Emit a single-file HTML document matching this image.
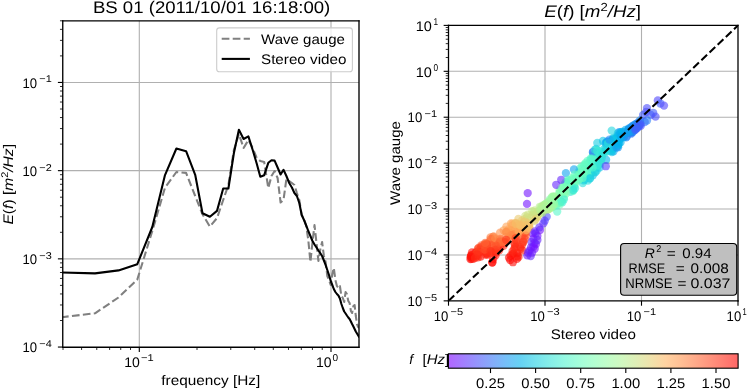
<!DOCTYPE html>
<html><head><meta charset="utf-8"><style>
html,body{margin:0;padding:0;background:#fff;width:749px;height:389px;overflow:hidden}
svg{display:block;will-change:transform}
text{font-family:"Liberation Sans",sans-serif;fill:#000;text-rendering:geometricPrecision}
</style></head><body>
<svg width="749" height="389" viewBox="0 0 749 389">
<defs></defs>
<linearGradient id="cbg" x1="0" x2="1" y1="0" y2="0"><stop offset="0.000" stop-color="rgb(178,102,255)"/><stop offset="0.050" stop-color="rgb(163,126,255)"/><stop offset="0.100" stop-color="rgb(148,149,253)"/><stop offset="0.150" stop-color="rgb(133,171,251)"/><stop offset="0.200" stop-color="rgb(117,192,248)"/><stop offset="0.250" stop-color="rgb(102,210,243)"/><stop offset="0.300" stop-color="rgb(117,226,238)"/><stop offset="0.350" stop-color="rgb(133,238,232)"/><stop offset="0.400" stop-color="rgb(148,248,226)"/><stop offset="0.450" stop-color="rgb(163,253,218)"/><stop offset="0.500" stop-color="rgb(178,255,210)"/><stop offset="0.550" stop-color="rgb(194,253,201)"/><stop offset="0.600" stop-color="rgb(209,248,192)"/><stop offset="0.650" stop-color="rgb(224,238,182)"/><stop offset="0.700" stop-color="rgb(240,226,171)"/><stop offset="0.750" stop-color="rgb(255,210,161)"/><stop offset="0.800" stop-color="rgb(255,192,149)"/><stop offset="0.850" stop-color="rgb(255,171,138)"/><stop offset="0.900" stop-color="rgb(255,149,126)"/><stop offset="0.950" stop-color="rgb(255,126,114)"/><stop offset="1.000" stop-color="rgb(255,102,102)"/></linearGradient>
<clipPath id="cr"><rect x="448.50" y="25.40" width="289.50" height="275.45"/></clipPath>
<line x1="139.30" y1="20.85" x2="139.30" y2="347.20" stroke="#b0b0b0" stroke-width="1.11" />
<line x1="331.00" y1="20.85" x2="331.00" y2="347.20" stroke="#b0b0b0" stroke-width="1.11" />
<line x1="62.75" y1="82.45" x2="359.00" y2="82.45" stroke="#b0b0b0" stroke-width="1.11" />
<line x1="62.75" y1="170.65" x2="359.00" y2="170.65" stroke="#b0b0b0" stroke-width="1.11" />
<line x1="62.75" y1="258.85" x2="359.00" y2="258.85" stroke="#b0b0b0" stroke-width="1.11" />
<clipPath id="cl"><rect x="62.75" y="20.85" width="296.25" height="326.35"/></clipPath>
<g clip-path="url(#cl)"><polyline points="61.00,317.30 95.00,313.30 118.50,297.50 137.30,279.50 152.30,231.00 165.00,187.70 176.40,172.00 186.10,172.90 195.20,196.00 202.50,214.30 209.90,226.60 217.00,218.10 223.20,200.00 228.40,185.00 233.90,150.00 238.90,134.00 243.60,148.00 248.40,140.00 252.70,148.00 256.70,158.00 260.30,161.00 264.20,162.00 268.30,188.00 271.50,176.00 274.60,171.00 277.60,178.00 280.60,202.50 283.50,200.00 286.40,179.00 289.20,181.00 291.90,183.00 294.40,185.00 296.90,193.00 299.30,200.00 301.70,215.00 304.00,219.00 306.20,226.00 308.30,240.00 310.40,262.00 312.50,242.00 314.50,225.00 316.50,243.00 318.40,261.00 320.20,250.00 322.10,242.00 323.90,256.00 325.60,262.00 327.30,276.00 329.00,280.00 330.70,285.00 332.30,274.00 333.80,268.00 335.40,280.00 336.90,286.00 338.40,288.00 339.90,286.00 341.40,296.00 342.80,298.00 344.20,302.00 345.60,292.00 346.90,294.00 348.30,301.00 349.60,303.00 350.90,311.00 352.10,313.00 353.40,306.00 354.60,305.00 355.80,316.00 357.00,324.00 358.20,327.00 359.40,328.00" fill="none" stroke="#808080" stroke-width="2.08" stroke-dasharray="7.7 3.3" stroke-linejoin="round"/>
<polyline points="61.00,272.50 95.00,273.40 118.50,270.40 137.30,264.20 152.30,227.00 165.00,175.10 176.40,148.50 186.10,151.20 195.20,174.80 202.50,213.20 209.90,216.80 217.00,210.90 223.20,188.50 228.40,188.50 233.90,153.00 238.90,129.80 243.60,139.00 248.40,136.40 252.70,150.00 256.70,163.50 260.30,176.80 264.20,175.20 268.30,162.80 271.50,160.20 274.60,160.60 277.60,167.50 280.60,174.50 283.50,169.80 286.40,176.00 289.20,183.00 291.90,187.50 294.40,193.00 296.90,196.00 299.30,203.00 301.70,215.00 304.00,220.00 306.20,225.50 308.30,231.00 310.40,236.00 312.50,241.00 314.50,244.50 316.50,247.50 318.40,250.50 320.20,253.00 322.10,256.00 323.90,260.50 325.60,265.00 327.30,270.00 329.00,275.00 330.70,281.00 332.30,285.00 333.80,289.00 335.40,292.00 336.90,294.00 338.40,295.50 339.90,298.50 341.40,304.00 342.80,308.00 344.20,311.50 345.60,313.50 346.90,315.50 348.30,317.50 349.60,319.00 350.90,321.50 352.10,324.00 353.40,326.50 354.60,329.00 355.80,331.50 357.00,333.50 358.20,335.50 359.40,337.50" fill="none" stroke="#000" stroke-width="2.08" stroke-linejoin="round"/></g>
<line x1="62.75" y1="20.20" x2="62.75" y2="347.90" stroke="#000" stroke-width="1.35" />
<line x1="359.00" y1="20.20" x2="359.00" y2="347.90" stroke="#000" stroke-width="1.35" />
<line x1="62.10" y1="20.85" x2="359.60" y2="20.85" stroke="#000" stroke-width="1.35" />
<line x1="62.10" y1="347.20" x2="359.60" y2="347.20" stroke="#000" stroke-width="1.35" />
<line x1="57.89" y1="347.05" x2="62.75" y2="347.05" stroke="#000" stroke-width="1.11" />
<line x1="59.97" y1="320.50" x2="62.75" y2="320.50" stroke="#000" stroke-width="0.83" />
<line x1="59.97" y1="304.97" x2="62.75" y2="304.97" stroke="#000" stroke-width="0.83" />
<line x1="59.97" y1="293.95" x2="62.75" y2="293.95" stroke="#000" stroke-width="0.83" />
<line x1="59.97" y1="285.40" x2="62.75" y2="285.40" stroke="#000" stroke-width="0.83" />
<line x1="59.97" y1="278.42" x2="62.75" y2="278.42" stroke="#000" stroke-width="0.83" />
<line x1="59.97" y1="272.51" x2="62.75" y2="272.51" stroke="#000" stroke-width="0.83" />
<line x1="59.97" y1="267.40" x2="62.75" y2="267.40" stroke="#000" stroke-width="0.83" />
<line x1="59.97" y1="262.89" x2="62.75" y2="262.89" stroke="#000" stroke-width="0.83" />
<line x1="57.89" y1="258.85" x2="62.75" y2="258.85" stroke="#000" stroke-width="1.11" />
<line x1="59.97" y1="232.30" x2="62.75" y2="232.30" stroke="#000" stroke-width="0.83" />
<line x1="59.97" y1="216.77" x2="62.75" y2="216.77" stroke="#000" stroke-width="0.83" />
<line x1="59.97" y1="205.75" x2="62.75" y2="205.75" stroke="#000" stroke-width="0.83" />
<line x1="59.97" y1="197.20" x2="62.75" y2="197.20" stroke="#000" stroke-width="0.83" />
<line x1="59.97" y1="190.22" x2="62.75" y2="190.22" stroke="#000" stroke-width="0.83" />
<line x1="59.97" y1="184.31" x2="62.75" y2="184.31" stroke="#000" stroke-width="0.83" />
<line x1="59.97" y1="179.20" x2="62.75" y2="179.20" stroke="#000" stroke-width="0.83" />
<line x1="59.97" y1="174.69" x2="62.75" y2="174.69" stroke="#000" stroke-width="0.83" />
<line x1="57.89" y1="170.65" x2="62.75" y2="170.65" stroke="#000" stroke-width="1.11" />
<line x1="59.97" y1="144.10" x2="62.75" y2="144.10" stroke="#000" stroke-width="0.83" />
<line x1="59.97" y1="128.57" x2="62.75" y2="128.57" stroke="#000" stroke-width="0.83" />
<line x1="59.97" y1="117.55" x2="62.75" y2="117.55" stroke="#000" stroke-width="0.83" />
<line x1="59.97" y1="109.00" x2="62.75" y2="109.00" stroke="#000" stroke-width="0.83" />
<line x1="59.97" y1="102.02" x2="62.75" y2="102.02" stroke="#000" stroke-width="0.83" />
<line x1="59.97" y1="96.11" x2="62.75" y2="96.11" stroke="#000" stroke-width="0.83" />
<line x1="59.97" y1="91.00" x2="62.75" y2="91.00" stroke="#000" stroke-width="0.83" />
<line x1="59.97" y1="86.49" x2="62.75" y2="86.49" stroke="#000" stroke-width="0.83" />
<line x1="57.89" y1="82.45" x2="62.75" y2="82.45" stroke="#000" stroke-width="1.11" />
<line x1="59.97" y1="55.90" x2="62.75" y2="55.90" stroke="#000" stroke-width="0.83" />
<line x1="59.97" y1="40.37" x2="62.75" y2="40.37" stroke="#000" stroke-width="0.83" />
<line x1="59.97" y1="29.35" x2="62.75" y2="29.35" stroke="#000" stroke-width="0.83" />
<line x1="59.97" y1="20.80" x2="62.75" y2="20.80" stroke="#000" stroke-width="0.83" />
<line x1="139.30" y1="347.20" x2="139.30" y2="352.06" stroke="#000" stroke-width="1.11" />
<line x1="331.00" y1="347.20" x2="331.00" y2="352.06" stroke="#000" stroke-width="1.11" />
<line x1="63.01" y1="347.20" x2="63.01" y2="349.98" stroke="#000" stroke-width="0.83" />
<line x1="81.59" y1="347.20" x2="81.59" y2="349.98" stroke="#000" stroke-width="0.83" />
<line x1="96.77" y1="347.20" x2="96.77" y2="349.98" stroke="#000" stroke-width="0.83" />
<line x1="109.61" y1="347.20" x2="109.61" y2="349.98" stroke="#000" stroke-width="0.83" />
<line x1="120.72" y1="347.20" x2="120.72" y2="349.98" stroke="#000" stroke-width="0.83" />
<line x1="130.53" y1="347.20" x2="130.53" y2="349.98" stroke="#000" stroke-width="0.83" />
<line x1="197.01" y1="347.20" x2="197.01" y2="349.98" stroke="#000" stroke-width="0.83" />
<line x1="230.76" y1="347.20" x2="230.76" y2="349.98" stroke="#000" stroke-width="0.83" />
<line x1="254.71" y1="347.20" x2="254.71" y2="349.98" stroke="#000" stroke-width="0.83" />
<line x1="273.29" y1="347.20" x2="273.29" y2="349.98" stroke="#000" stroke-width="0.83" />
<line x1="288.47" y1="347.20" x2="288.47" y2="349.98" stroke="#000" stroke-width="0.83" />
<line x1="301.31" y1="347.20" x2="301.31" y2="349.98" stroke="#000" stroke-width="0.83" />
<line x1="312.42" y1="347.20" x2="312.42" y2="349.98" stroke="#000" stroke-width="0.83" />
<line x1="322.23" y1="347.20" x2="322.23" y2="349.98" stroke="#000" stroke-width="0.83" />
<text x="22.40" y="87.70" font-size="13.9" text-anchor="start" textLength="14.6" lengthAdjust="spacingAndGlyphs"  style="">10</text>
<text x="39.30" y="82.30" font-size="9.9" text-anchor="start" textLength="12.4" lengthAdjust="spacingAndGlyphs"  style="">−1</text>
<text x="22.40" y="175.90" font-size="13.9" text-anchor="start" textLength="14.6" lengthAdjust="spacingAndGlyphs"  style="">10</text>
<text x="39.30" y="170.50" font-size="9.9" text-anchor="start" textLength="12.4" lengthAdjust="spacingAndGlyphs"  style="">−2</text>
<text x="22.40" y="264.10" font-size="13.9" text-anchor="start" textLength="14.6" lengthAdjust="spacingAndGlyphs"  style="">10</text>
<text x="39.30" y="258.70" font-size="9.9" text-anchor="start" textLength="12.4" lengthAdjust="spacingAndGlyphs"  style="">−3</text>
<text x="22.40" y="352.25" font-size="13.9" text-anchor="start" textLength="14.6" lengthAdjust="spacingAndGlyphs"  style="">10</text>
<text x="39.30" y="346.85" font-size="9.9" text-anchor="start" textLength="12.4" lengthAdjust="spacingAndGlyphs"  style="">−4</text>
<text x="124.30" y="366.90" font-size="13.9" text-anchor="start" textLength="15.6" lengthAdjust="spacingAndGlyphs"  style="">10</text>
<text x="141.00" y="361.30" font-size="9.9" text-anchor="start" textLength="12.7" lengthAdjust="spacingAndGlyphs"  style="">−1</text>
<text x="316.00" y="366.90" font-size="13.9" text-anchor="start" textLength="15.6" lengthAdjust="spacingAndGlyphs"  style="">10</text>
<text x="332.50" y="361.30" font-size="9.9" text-anchor="start" textLength="5.6" lengthAdjust="spacingAndGlyphs"  style="">0</text>
<text x="92.90" y="12.50" font-size="16.9" text-anchor="start" textLength="237.4" lengthAdjust="spacingAndGlyphs"  style="">BS 01 (2011/10/01 16:18:00)</text>
<text x="161.30" y="384.80" font-size="13.9" text-anchor="start" textLength="98.9" lengthAdjust="spacingAndGlyphs"  style="">frequency [Hz]</text>
<g transform="translate(12.9,224.5) rotate(-90)">
<text x="0" y="0" font-size="13.9" textLength="80.5" lengthAdjust="spacingAndGlyphs"><tspan font-style="italic">E</tspan>(<tspan font-style="italic">f</tspan>) [<tspan font-style="italic">m</tspan><tspan font-size="9.7" dy="-5">2</tspan><tspan dy="5" font-style="italic">/Hz</tspan>]</text>
</g>
<rect x="216.7" y="27.9" width="135.7" height="43.8" rx="2.8" fill="#fff" fill-opacity="0.8" stroke="#cccccc" stroke-width="1.11"/>
<line x1="221.70" y1="38.80" x2="249.90" y2="38.80" stroke="#808080" stroke-width="2.08" stroke-dasharray="7.7 3.3"/>
<line x1="221.70" y1="58.90" x2="249.90" y2="58.90" stroke="#000" stroke-width="2.08" />
<text x="261.00" y="43.50" font-size="13.9" text-anchor="start" textLength="83.9" lengthAdjust="spacingAndGlyphs"  style="">Wave gauge</text>
<text x="261.00" y="63.80" font-size="13.9" text-anchor="start" textLength="85.4" lengthAdjust="spacingAndGlyphs"  style="">Stereo video</text>
<line x1="545.00" y1="25.40" x2="545.00" y2="300.85" stroke="#b0b0b0" stroke-width="1.11" />
<line x1="641.50" y1="25.40" x2="641.50" y2="300.85" stroke="#b0b0b0" stroke-width="1.11" />
<line x1="448.50" y1="254.94" x2="738.00" y2="254.94" stroke="#b0b0b0" stroke-width="1.11" />
<line x1="448.50" y1="209.03" x2="738.00" y2="209.03" stroke="#b0b0b0" stroke-width="1.11" />
<line x1="448.50" y1="163.12" x2="738.00" y2="163.12" stroke="#b0b0b0" stroke-width="1.11" />
<line x1="448.50" y1="117.22" x2="738.00" y2="117.22" stroke="#b0b0b0" stroke-width="1.11" />
<line x1="448.50" y1="71.31" x2="738.00" y2="71.31" stroke="#b0b0b0" stroke-width="1.11" />
<g clip-path="url(#cr)" fill-opacity="0.60">
<circle cx="617.3" cy="135.8" r="4.15" fill="#04b9ea"/>
<circle cx="537.7" cy="212.0" r="4.15" fill="#bfec8e"/>
<circle cx="587.7" cy="160.8" r="4.15" fill="#5cf9c7"/>
<circle cx="516.6" cy="225.5" r="4.15" fill="#ffa95a"/>
<circle cx="508.1" cy="231.2" r="4.15" fill="#ff924d"/>
<circle cx="559.6" cy="189.9" r="4.15" fill="#85ffb1"/>
<circle cx="471.5" cy="255.1" r="4.15" fill="#ff1008"/>
<circle cx="562.3" cy="202.2" r="4.15" fill="#43eed3"/>
<circle cx="490.0" cy="241.5" r="4.15" fill="#ff783e"/>
<circle cx="531.4" cy="242.0" r="4.15" fill="#6130fe"/>
<circle cx="547.6" cy="206.5" r="4.15" fill="#a4f99f"/>
<circle cx="487.5" cy="254.7" r="4.15" fill="#ff160b"/>
<circle cx="547.2" cy="204.2" r="4.15" fill="#a9f79c"/>
<circle cx="541.7" cy="213.1" r="4.15" fill="#c3e98b"/>
<circle cx="606.1" cy="159.7" r="4.15" fill="#01b6eb"/>
<circle cx="567.1" cy="184.1" r="4.15" fill="#70febd"/>
<circle cx="634.0" cy="129.1" r="4.15" fill="#2f79f7"/>
<circle cx="547.5" cy="206.6" r="4.15" fill="#beec8f"/>
<circle cx="570.4" cy="191.9" r="4.15" fill="#33e3da"/>
<circle cx="614.6" cy="145.0" r="4.15" fill="#06bbea"/>
<circle cx="472.4" cy="257.1" r="4.15" fill="#ff1008"/>
<circle cx="531.2" cy="217.8" r="4.15" fill="#cfe183"/>
<circle cx="492.3" cy="262.6" r="4.15" fill="#ff0804"/>
<circle cx="566.2" cy="193.3" r="4.15" fill="#79ffb8"/>
<circle cx="591.0" cy="173.6" r="4.15" fill="#1996f3"/>
<circle cx="593.0" cy="155.8" r="4.15" fill="#5cf9c7"/>
<circle cx="496.1" cy="242.3" r="4.15" fill="#ff6634"/>
<circle cx="589.9" cy="163.0" r="4.15" fill="#5cf9c7"/>
<circle cx="613.5" cy="151.3" r="4.15" fill="#0fa2f0"/>
<circle cx="546.3" cy="203.4" r="4.15" fill="#b3f295"/>
<circle cx="526.1" cy="228.8" r="4.15" fill="#ffb462"/>
<circle cx="545.5" cy="207.2" r="4.15" fill="#a9f79c"/>
<circle cx="576.2" cy="181.0" r="4.15" fill="#5df9c6"/>
<circle cx="574.4" cy="179.8" r="4.15" fill="#73febb"/>
<circle cx="526.9" cy="230.8" r="4.15" fill="#ffb05f"/>
<circle cx="542.7" cy="211.9" r="4.15" fill="#c3e98b"/>
<circle cx="573.7" cy="187.1" r="4.15" fill="#75feba"/>
<circle cx="597.3" cy="143.0" r="4.15" fill="#19cee3"/>
<circle cx="538.1" cy="213.8" r="4.15" fill="#d0e083"/>
<circle cx="542.5" cy="210.8" r="4.15" fill="#b1f397"/>
<circle cx="528.8" cy="222.8" r="4.15" fill="#e3d075"/>
<circle cx="519.2" cy="233.6" r="4.15" fill="#ffa155"/>
<circle cx="640.0" cy="120.5" r="4.15" fill="#1f8ff4"/>
<circle cx="517.7" cy="224.5" r="4.15" fill="#ffaf5e"/>
<circle cx="494.9" cy="241.6" r="4.15" fill="#ff793e"/>
<circle cx="503.7" cy="230.3" r="4.15" fill="#ffa457"/>
<circle cx="546.5" cy="210.0" r="4.15" fill="#b8f092"/>
<circle cx="546.7" cy="216.7" r="4.15" fill="#4c4ffc"/>
<circle cx="631.4" cy="131.5" r="4.15" fill="#3570f8"/>
<circle cx="506.2" cy="236.8" r="4.15" fill="#ff763d"/>
<circle cx="595.4" cy="159.1" r="4.15" fill="#46efd1"/>
<circle cx="619.0" cy="132.1" r="4.15" fill="#2488f5"/>
<circle cx="544.2" cy="204.9" r="4.15" fill="#98fca6"/>
<circle cx="522.3" cy="227.7" r="4.15" fill="#ffb160"/>
<circle cx="608.9" cy="142.1" r="4.15" fill="#26d9df"/>
<circle cx="493.2" cy="248.4" r="4.15" fill="#ff4121"/>
<circle cx="526.7" cy="224.8" r="4.15" fill="#ecc86f"/>
<circle cx="523.1" cy="242.2" r="4.15" fill="#ff371c"/>
<circle cx="639.3" cy="125.9" r="4.15" fill="#4757fb"/>
<circle cx="638.5" cy="122.3" r="4.15" fill="#2587f5"/>
<circle cx="534.5" cy="243.0" r="4.15" fill="#7019ff"/>
<circle cx="657.8" cy="100.4" r="4.15" fill="#5247fc"/>
<circle cx="584.4" cy="170.2" r="4.15" fill="#66fcc2"/>
<circle cx="591.0" cy="160.4" r="4.15" fill="#61fbc4"/>
<circle cx="550.6" cy="201.3" r="4.15" fill="#abf69b"/>
<circle cx="523.3" cy="222.5" r="4.15" fill="#ffb260"/>
<circle cx="485.2" cy="245.5" r="4.15" fill="#ff4c26"/>
<circle cx="552.3" cy="198.8" r="4.15" fill="#9efaa2"/>
<circle cx="596.6" cy="170.8" r="4.15" fill="#2adddd"/>
<circle cx="513.0" cy="235.1" r="4.15" fill="#ff8c49"/>
<circle cx="606.5" cy="150.5" r="4.15" fill="#1cd1e2"/>
<circle cx="631.3" cy="128.5" r="4.15" fill="#1b94f3"/>
<circle cx="556.5" cy="205.0" r="4.15" fill="#63fbc4"/>
<circle cx="534.6" cy="220.9" r="4.15" fill="#dbd77b"/>
<circle cx="617.2" cy="140.4" r="4.15" fill="#13c8e5"/>
<circle cx="559.0" cy="202.3" r="4.15" fill="#92fda9"/>
<circle cx="525.4" cy="232.6" r="4.15" fill="#ff4f28"/>
<circle cx="537.4" cy="236.0" r="4.15" fill="#7411ff"/>
<circle cx="604.1" cy="148.9" r="4.15" fill="#2adcdd"/>
<circle cx="539.1" cy="212.6" r="4.15" fill="#cfe183"/>
<circle cx="592.8" cy="175.3" r="4.15" fill="#0abfe8"/>
<circle cx="626.2" cy="137.3" r="4.15" fill="#2488f5"/>
<circle cx="594.5" cy="163.0" r="4.15" fill="#4ff4cd"/>
<circle cx="515.5" cy="223.2" r="4.15" fill="#fab965"/>
<circle cx="554.3" cy="201.0" r="4.15" fill="#a7f89d"/>
<circle cx="539.8" cy="206.8" r="4.15" fill="#b7f093"/>
<circle cx="620.2" cy="138.8" r="4.15" fill="#06bbea"/>
<circle cx="618.1" cy="147.2" r="4.15" fill="#1d92f3"/>
<circle cx="514.7" cy="234.9" r="4.15" fill="#ff904b"/>
<circle cx="660.4" cy="103.5" r="4.15" fill="#425efa"/>
<circle cx="526.1" cy="230.2" r="4.15" fill="#ffb260"/>
<circle cx="480.7" cy="256.5" r="4.15" fill="#ff0804"/>
<circle cx="593.3" cy="161.0" r="4.15" fill="#5bf9c7"/>
<circle cx="560.2" cy="201.3" r="4.15" fill="#47efd1"/>
<circle cx="522.2" cy="244.4" r="4.15" fill="#ff3219"/>
<circle cx="586.2" cy="171.0" r="4.15" fill="#64fbc3"/>
<circle cx="606.4" cy="142.3" r="4.15" fill="#228bf4"/>
<circle cx="517.3" cy="253.0" r="4.15" fill="#ff1f0f"/>
<circle cx="581.6" cy="177.3" r="4.15" fill="#68fcc1"/>
<circle cx="597.8" cy="151.2" r="4.15" fill="#46efd1"/>
<circle cx="594.9" cy="155.2" r="4.15" fill="#4bf2cf"/>
<circle cx="486.2" cy="243.7" r="4.15" fill="#ff5129"/>
<circle cx="559.1" cy="193.4" r="4.15" fill="#8cfead"/>
<circle cx="640.1" cy="122.8" r="4.15" fill="#396cf9"/>
<circle cx="522.1" cy="220.5" r="4.15" fill="#e9cb72"/>
<circle cx="565.9" cy="173.1" r="4.15" fill="#0fa3f0"/>
<circle cx="615.2" cy="139.1" r="4.15" fill="#0fc4e7"/>
<circle cx="595.5" cy="154.1" r="4.15" fill="#4ff4cd"/>
<circle cx="633.2" cy="126.4" r="4.15" fill="#2389f5"/>
<circle cx="548.4" cy="207.0" r="4.15" fill="#bded8f"/>
<circle cx="535.5" cy="233.5" r="4.15" fill="#642bfe"/>
<circle cx="587.3" cy="176.3" r="4.15" fill="#59f8c9"/>
<circle cx="586.7" cy="172.4" r="4.15" fill="#65fcc2"/>
<circle cx="527.3" cy="255.4" r="4.15" fill="#6f1aff"/>
<circle cx="484.1" cy="248.0" r="4.15" fill="#ff4b26"/>
<circle cx="550.0" cy="205.9" r="4.15" fill="#abf69b"/>
<circle cx="525.3" cy="215.9" r="4.15" fill="#cfe183"/>
<circle cx="595.1" cy="168.0" r="4.15" fill="#47f0d1"/>
<circle cx="500.1" cy="232.6" r="4.15" fill="#ff914c"/>
<circle cx="639.2" cy="124.9" r="4.15" fill="#4061fa"/>
<circle cx="510.6" cy="233.6" r="4.15" fill="#ff924d"/>
<circle cx="650.8" cy="115.0" r="4.15" fill="#425efa"/>
<circle cx="478.5" cy="247.9" r="4.15" fill="#ff562b"/>
<circle cx="556.9" cy="199.2" r="4.15" fill="#92fdaa"/>
<circle cx="567.8" cy="181.6" r="4.15" fill="#7bffb7"/>
<circle cx="493.2" cy="259.1" r="4.15" fill="#ff0e07"/>
<circle cx="506.4" cy="226.7" r="4.15" fill="#ffa558"/>
<circle cx="572.0" cy="178.1" r="4.15" fill="#76ffb9"/>
<circle cx="510.5" cy="236.2" r="4.15" fill="#ff924d"/>
<circle cx="592.6" cy="166.7" r="4.15" fill="#53f5cb"/>
<circle cx="510.7" cy="255.6" r="4.15" fill="#ff150a"/>
<circle cx="553.1" cy="203.5" r="4.15" fill="#8dfeac"/>
<circle cx="638.0" cy="126.1" r="4.15" fill="#3c67fa"/>
<circle cx="537.6" cy="216.8" r="4.15" fill="#dad97c"/>
<circle cx="513.6" cy="253.3" r="4.15" fill="#ff1e0f"/>
<circle cx="593.5" cy="172.1" r="4.15" fill="#4cf2cf"/>
<circle cx="540.0" cy="230.0" r="4.15" fill="#7412ff"/>
<circle cx="614.7" cy="140.1" r="4.15" fill="#11c6e6"/>
<circle cx="631.8" cy="129.9" r="4.15" fill="#2586f5"/>
<circle cx="498.1" cy="244.8" r="4.15" fill="#ff773d"/>
<circle cx="619.8" cy="134.1" r="4.15" fill="#07adee"/>
<circle cx="477.0" cy="252.3" r="4.15" fill="#ff2010"/>
<circle cx="589.0" cy="170.4" r="4.15" fill="#5af8c8"/>
<circle cx="511.2" cy="230.8" r="4.15" fill="#ff9a51"/>
<circle cx="636.3" cy="123.8" r="4.15" fill="#2b7ef6"/>
<circle cx="600.1" cy="163.9" r="4.15" fill="#41ecd4"/>
<circle cx="532.3" cy="211.2" r="4.15" fill="#c8e688"/>
<circle cx="499.1" cy="250.4" r="4.15" fill="#ff2010"/>
<circle cx="580.0" cy="168.4" r="4.15" fill="#69fdc0"/>
<circle cx="583.6" cy="180.6" r="4.15" fill="#2ddfdc"/>
<circle cx="617.4" cy="138.7" r="4.15" fill="#05baea"/>
<circle cx="509.0" cy="257.7" r="4.15" fill="#ff1108"/>
<circle cx="493.7" cy="236.5" r="4.15" fill="#ff8c49"/>
<circle cx="515.8" cy="240.2" r="4.15" fill="#ff3b1e"/>
<circle cx="533.4" cy="238.7" r="4.15" fill="#6f19ff"/>
<circle cx="611.7" cy="150.8" r="4.15" fill="#09bee9"/>
<circle cx="550.6" cy="207.7" r="4.15" fill="#9cfba4"/>
<circle cx="622.7" cy="135.0" r="4.15" fill="#1799f2"/>
<circle cx="536.0" cy="244.0" r="4.15" fill="#7314ff"/>
<circle cx="637.8" cy="127.3" r="4.15" fill="#3d66fa"/>
<circle cx="611.2" cy="149.4" r="4.15" fill="#1ed2e2"/>
<circle cx="490.5" cy="237.4" r="4.15" fill="#ff8344"/>
<circle cx="619.7" cy="139.3" r="4.15" fill="#06aeed"/>
<circle cx="522.4" cy="235.8" r="4.15" fill="#ff4523"/>
<circle cx="616.7" cy="142.0" r="4.15" fill="#01b5eb"/>
<circle cx="559.7" cy="204.6" r="4.15" fill="#6cfdbf"/>
<circle cx="549.8" cy="199.4" r="4.15" fill="#7effb5"/>
<circle cx="589.3" cy="173.9" r="4.15" fill="#4bf2cf"/>
<circle cx="628.8" cy="129.2" r="4.15" fill="#208df4"/>
<circle cx="595.4" cy="154.8" r="4.15" fill="#48f0d0"/>
<circle cx="542.8" cy="209.0" r="4.15" fill="#baef91"/>
<circle cx="532.7" cy="233.4" r="4.15" fill="#7314ff"/>
<circle cx="573.0" cy="191.0" r="4.15" fill="#60fac5"/>
<circle cx="487.1" cy="246.9" r="4.15" fill="#ff5d2f"/>
<circle cx="632.5" cy="132.4" r="4.15" fill="#3a69f9"/>
<circle cx="620.5" cy="132.3" r="4.15" fill="#11a0f0"/>
<circle cx="511.0" cy="223.5" r="4.15" fill="#ffa759"/>
<circle cx="553.0" cy="206.7" r="4.15" fill="#98fca6"/>
<circle cx="618.5" cy="143.0" r="4.15" fill="#03b7eb"/>
<circle cx="520.6" cy="248.9" r="4.15" fill="#ff2814"/>
<circle cx="588.7" cy="163.4" r="4.15" fill="#52f5cc"/>
<circle cx="573.6" cy="185.3" r="4.15" fill="#60fac5"/>
<circle cx="564.4" cy="193.6" r="4.15" fill="#87ffb0"/>
<circle cx="623.5" cy="137.3" r="4.15" fill="#01b3ec"/>
<circle cx="514.8" cy="244.6" r="4.15" fill="#ff2f17"/>
<circle cx="568.6" cy="183.1" r="4.15" fill="#76ffba"/>
<circle cx="475.5" cy="252.5" r="4.15" fill="#ff2110"/>
<circle cx="581.8" cy="171.9" r="4.15" fill="#69fdc0"/>
<circle cx="599.0" cy="150.9" r="4.15" fill="#3dead5"/>
<circle cx="604.9" cy="151.1" r="4.15" fill="#2cdedc"/>
<circle cx="598.4" cy="161.7" r="4.15" fill="#3be9d6"/>
<circle cx="574.3" cy="181.1" r="4.15" fill="#76ffba"/>
<circle cx="484.5" cy="248.9" r="4.15" fill="#ff4925"/>
<circle cx="553.6" cy="198.1" r="4.15" fill="#9ffaa2"/>
<circle cx="543.4" cy="223.4" r="4.15" fill="#622efe"/>
<circle cx="558.8" cy="202.6" r="4.15" fill="#8cfead"/>
<circle cx="613.2" cy="138.1" r="4.15" fill="#17cce4"/>
<circle cx="572.4" cy="187.8" r="4.15" fill="#72febb"/>
<circle cx="503.5" cy="245.9" r="4.15" fill="#ff2c16"/>
<circle cx="533.4" cy="246.7" r="4.15" fill="#6f1bff"/>
<circle cx="520.3" cy="247.1" r="4.15" fill="#ff2d17"/>
<circle cx="522.4" cy="250.3" r="4.15" fill="#ff2412"/>
<circle cx="587.4" cy="165.2" r="4.15" fill="#5cf9c7"/>
<circle cx="580.8" cy="179.4" r="4.15" fill="#5efac6"/>
<circle cx="525.3" cy="226.2" r="4.15" fill="#f8bc67"/>
<circle cx="630.4" cy="127.9" r="4.15" fill="#1f8ff4"/>
<circle cx="548.6" cy="205.4" r="4.15" fill="#adf599"/>
<circle cx="535.2" cy="214.4" r="4.15" fill="#c2ea8c"/>
<circle cx="542.2" cy="208.1" r="4.15" fill="#b1f397"/>
<circle cx="526.1" cy="232.1" r="4.15" fill="#ff9d53"/>
<circle cx="512.6" cy="254.1" r="4.15" fill="#ff190d"/>
<circle cx="478.1" cy="248.6" r="4.15" fill="#ff4322"/>
<circle cx="582.7" cy="183.0" r="4.15" fill="#2ee0db"/>
<circle cx="555.4" cy="196.3" r="4.15" fill="#97fca7"/>
<circle cx="611.9" cy="141.1" r="4.15" fill="#1fd3e1"/>
<circle cx="568.4" cy="183.6" r="4.15" fill="#7affb8"/>
<circle cx="490.1" cy="252.6" r="4.15" fill="#ff4824"/>
<circle cx="558.7" cy="196.8" r="4.15" fill="#8bfeae"/>
<circle cx="512.6" cy="251.3" r="4.15" fill="#ff2211"/>
<circle cx="521.3" cy="229.7" r="4.15" fill="#fbb965"/>
<circle cx="523.4" cy="241.4" r="4.15" fill="#ff3c1e"/>
<circle cx="471.3" cy="255.9" r="4.15" fill="#ff2312"/>
<circle cx="560.1" cy="191.6" r="4.15" fill="#89ffaf"/>
<circle cx="487.1" cy="244.5" r="4.15" fill="#ff5c2f"/>
<circle cx="611.4" cy="142.1" r="4.15" fill="#17cce4"/>
<circle cx="629.0" cy="128.3" r="4.15" fill="#149cf1"/>
<circle cx="599.2" cy="156.9" r="4.15" fill="#57f7c9"/>
<circle cx="647.0" cy="120.5" r="4.15" fill="#2982f6"/>
<circle cx="524.8" cy="219.1" r="4.15" fill="#ddd679"/>
<circle cx="603.0" cy="141.0" r="4.15" fill="#0fc4e7"/>
<circle cx="481.3" cy="245.5" r="4.15" fill="#ff5c2f"/>
<circle cx="479.3" cy="251.5" r="4.15" fill="#ff2c16"/>
<circle cx="543.4" cy="206.4" r="4.15" fill="#adf599"/>
<circle cx="617.2" cy="137.6" r="4.15" fill="#02b7eb"/>
<circle cx="625.5" cy="130.0" r="4.15" fill="#06aeed"/>
<circle cx="495.5" cy="255.4" r="4.15" fill="#ff140a"/>
<circle cx="554.8" cy="201.7" r="4.15" fill="#9efaa2"/>
<circle cx="593.0" cy="154.7" r="4.15" fill="#4ef3cd"/>
<circle cx="624.2" cy="136.8" r="4.15" fill="#0ea4f0"/>
<circle cx="664.0" cy="105.6" r="4.15" fill="#5247fc"/>
<circle cx="622.1" cy="134.7" r="4.15" fill="#0ba8ef"/>
<circle cx="630.7" cy="132.6" r="4.15" fill="#3571f8"/>
<circle cx="493.1" cy="236.8" r="4.15" fill="#ff8042"/>
<circle cx="546.0" cy="205.8" r="4.15" fill="#a6f89d"/>
<circle cx="514.3" cy="248.8" r="4.15" fill="#ff2613"/>
<circle cx="629.9" cy="131.8" r="4.15" fill="#1898f2"/>
<circle cx="548.4" cy="205.1" r="4.15" fill="#b4f295"/>
<circle cx="476.4" cy="255.2" r="4.15" fill="#ff2e17"/>
<circle cx="579.7" cy="174.5" r="4.15" fill="#66fcc2"/>
<circle cx="628.1" cy="130.0" r="4.15" fill="#1799f2"/>
<circle cx="627.1" cy="132.4" r="4.15" fill="#149df1"/>
<circle cx="632.9" cy="131.4" r="4.15" fill="#1996f2"/>
<circle cx="548.3" cy="209.4" r="4.15" fill="#abf69b"/>
<circle cx="569.5" cy="180.3" r="4.15" fill="#74feba"/>
<circle cx="564.0" cy="185.5" r="4.15" fill="#82ffb3"/>
<circle cx="529.2" cy="227.6" r="4.15" fill="#feb562"/>
<circle cx="491.5" cy="245.3" r="4.15" fill="#ff542b"/>
<circle cx="547.5" cy="203.2" r="4.15" fill="#96fda7"/>
<circle cx="565.9" cy="185.1" r="4.15" fill="#7cffb6"/>
<circle cx="487.1" cy="253.5" r="4.15" fill="#ff140a"/>
<circle cx="611.6" cy="140.5" r="4.15" fill="#1bcfe3"/>
<circle cx="512.3" cy="223.6" r="4.15" fill="#ffb260"/>
<circle cx="534.0" cy="212.5" r="4.15" fill="#c3e98b"/>
<circle cx="552.3" cy="196.6" r="4.15" fill="#a9f79c"/>
<circle cx="634.3" cy="125.2" r="4.15" fill="#2587f5"/>
<circle cx="597.2" cy="160.0" r="4.15" fill="#41ecd3"/>
<circle cx="547.4" cy="206.9" r="4.15" fill="#aef599"/>
<circle cx="532.3" cy="215.1" r="4.15" fill="#d7db7e"/>
<circle cx="544.6" cy="209.8" r="4.15" fill="#c0eb8d"/>
<circle cx="499.7" cy="239.8" r="4.15" fill="#ff6735"/>
<circle cx="521.1" cy="226.7" r="4.15" fill="#ffa759"/>
<circle cx="587.9" cy="180.5" r="4.15" fill="#29dcdd"/>
<circle cx="613.5" cy="144.9" r="4.15" fill="#1acee3"/>
<circle cx="508.6" cy="237.4" r="4.15" fill="#ff7c40"/>
<circle cx="609.4" cy="150.9" r="4.15" fill="#19cde4"/>
<circle cx="589.4" cy="165.6" r="4.15" fill="#4ff4cd"/>
<circle cx="520.0" cy="233.0" r="4.15" fill="#ff924d"/>
<circle cx="515.0" cy="229.3" r="4.15" fill="#ff964f"/>
<circle cx="529.0" cy="224.4" r="4.15" fill="#f4c069"/>
<circle cx="566.5" cy="183.6" r="4.15" fill="#73febb"/>
<circle cx="505.2" cy="242.1" r="4.15" fill="#ff5b2e"/>
<circle cx="562.4" cy="190.3" r="4.15" fill="#7fffb4"/>
<circle cx="636.0" cy="124.0" r="4.15" fill="#1f8ff4"/>
<circle cx="530.7" cy="256.0" r="4.15" fill="#6529fe"/>
<circle cx="626.9" cy="136.4" r="4.15" fill="#2883f6"/>
<circle cx="514.6" cy="243.3" r="4.15" fill="#ff331a"/>
<circle cx="490.7" cy="252.4" r="4.15" fill="#ff3c1e"/>
<circle cx="500.1" cy="238.8" r="4.15" fill="#ff7c40"/>
<circle cx="522.8" cy="226.8" r="4.15" fill="#f6be68"/>
<circle cx="572.7" cy="190.0" r="4.15" fill="#5cf9c7"/>
<circle cx="613.7" cy="140.6" r="4.15" fill="#0ec3e7"/>
<circle cx="529.4" cy="250.7" r="4.15" fill="#6a21fe"/>
<circle cx="521.1" cy="228.2" r="4.15" fill="#ffab5c"/>
<circle cx="494.3" cy="250.3" r="4.15" fill="#ff4a25"/>
<circle cx="514.7" cy="228.8" r="4.15" fill="#ffa759"/>
<circle cx="644.7" cy="122.0" r="4.15" fill="#3374f8"/>
<circle cx="617.9" cy="145.9" r="4.15" fill="#03b7eb"/>
<circle cx="597.5" cy="165.9" r="4.15" fill="#42edd3"/>
<circle cx="633.0" cy="125.7" r="4.15" fill="#1c92f3"/>
<circle cx="525.7" cy="235.6" r="4.15" fill="#ff4a25"/>
<circle cx="585.5" cy="164.8" r="4.15" fill="#64fbc3"/>
<circle cx="479.4" cy="249.6" r="4.15" fill="#ff4623"/>
<circle cx="583.5" cy="177.9" r="4.15" fill="#65fcc3"/>
<circle cx="613.2" cy="138.8" r="4.15" fill="#11c7e6"/>
<circle cx="564.6" cy="184.2" r="4.15" fill="#7dffb6"/>
<circle cx="518.4" cy="218.9" r="4.15" fill="#eaca70"/>
<circle cx="636.9" cy="125.6" r="4.15" fill="#2389f5"/>
<circle cx="640.8" cy="125.8" r="4.15" fill="#4a53fb"/>
<circle cx="553.0" cy="202.7" r="4.15" fill="#93fda9"/>
<circle cx="584.4" cy="179.7" r="4.15" fill="#1dd1e2"/>
<circle cx="634.7" cy="130.1" r="4.15" fill="#2f79f7"/>
<circle cx="553.1" cy="196.6" r="4.15" fill="#9dfba3"/>
<circle cx="549.5" cy="207.9" r="4.15" fill="#b2f396"/>
<circle cx="542.1" cy="212.8" r="4.15" fill="#baee91"/>
<circle cx="633.4" cy="127.8" r="4.15" fill="#2a80f6"/>
<circle cx="595.6" cy="161.0" r="4.15" fill="#47f0d1"/>
<circle cx="574.2" cy="185.9" r="4.15" fill="#70febd"/>
<circle cx="582.2" cy="168.8" r="4.15" fill="#6cfdbf"/>
<circle cx="640.5" cy="124.1" r="4.15" fill="#425efa"/>
<circle cx="548.8" cy="201.5" r="4.15" fill="#acf59a"/>
<circle cx="517.5" cy="255.8" r="4.15" fill="#ff1a0d"/>
<circle cx="592.9" cy="152.2" r="4.15" fill="#1dd1e2"/>
<circle cx="486.9" cy="246.7" r="4.15" fill="#ff4a25"/>
<circle cx="587.5" cy="173.8" r="4.15" fill="#5bf9c7"/>
<circle cx="537.0" cy="217.1" r="4.15" fill="#ded579"/>
<circle cx="517.0" cy="258.9" r="4.15" fill="#ff1008"/>
<circle cx="590.0" cy="178.1" r="4.15" fill="#29dcdd"/>
<circle cx="572.4" cy="186.0" r="4.15" fill="#70febd"/>
<circle cx="572.3" cy="179.2" r="4.15" fill="#77ffb9"/>
<circle cx="630.9" cy="132.6" r="4.15" fill="#3176f8"/>
<circle cx="601.8" cy="158.2" r="4.15" fill="#2fe0db"/>
<circle cx="484.6" cy="244.6" r="4.15" fill="#ff6634"/>
<circle cx="490.8" cy="239.1" r="4.15" fill="#ff6634"/>
<circle cx="525.8" cy="224.9" r="4.15" fill="#f9bb66"/>
<circle cx="492.3" cy="262.3" r="4.15" fill="#ff0804"/>
<circle cx="577.8" cy="179.6" r="4.15" fill="#63fbc3"/>
<circle cx="521.1" cy="226.6" r="4.15" fill="#ffad5d"/>
<circle cx="613.2" cy="148.4" r="4.15" fill="#0abfe9"/>
<circle cx="596.0" cy="149.0" r="4.15" fill="#1bd0e3"/>
<circle cx="563.8" cy="197.8" r="4.15" fill="#7dffb5"/>
<circle cx="607.5" cy="141.3" r="4.15" fill="#11a0f0"/>
<circle cx="529.0" cy="227.3" r="4.15" fill="#fdb763"/>
<circle cx="563.9" cy="199.3" r="4.15" fill="#41ecd4"/>
<circle cx="623.8" cy="132.0" r="4.15" fill="#0ea4f0"/>
<circle cx="611.8" cy="152.0" r="4.15" fill="#12c7e6"/>
<circle cx="470.9" cy="257.1" r="4.15" fill="#ff180c"/>
<circle cx="511.5" cy="233.8" r="4.15" fill="#ff9b52"/>
<circle cx="514.0" cy="234.1" r="4.15" fill="#ff8f4b"/>
<circle cx="500.2" cy="247.8" r="4.15" fill="#ff2613"/>
<circle cx="575.2" cy="183.2" r="4.15" fill="#74febb"/>
<circle cx="597.2" cy="166.4" r="4.15" fill="#40ecd4"/>
<circle cx="590.9" cy="159.3" r="4.15" fill="#4ef3ce"/>
<circle cx="528.0" cy="252.7" r="4.15" fill="#6b1fff"/>
<circle cx="647.0" cy="108.1" r="4.15" fill="#4c4ffc"/>
<circle cx="565.7" cy="182.2" r="4.15" fill="#6bfdbf"/>
<circle cx="578.4" cy="172.3" r="4.15" fill="#68fcc1"/>
<circle cx="506.6" cy="231.7" r="4.15" fill="#ff954e"/>
<circle cx="556.3" cy="203.6" r="4.15" fill="#86ffb1"/>
<circle cx="534.7" cy="231.4" r="4.15" fill="#6727fe"/>
<circle cx="524.6" cy="239.0" r="4.15" fill="#ff4121"/>
<circle cx="590.0" cy="178.6" r="4.15" fill="#19cee3"/>
<circle cx="593.0" cy="152.0" r="4.15" fill="#425efa"/>
<circle cx="495.2" cy="249.2" r="4.15" fill="#ff552b"/>
<circle cx="495.5" cy="251.5" r="4.15" fill="#ff341a"/>
<circle cx="617.9" cy="133.3" r="4.15" fill="#08bde9"/>
<circle cx="472.0" cy="252.5" r="4.15" fill="#ff0804"/>
<circle cx="534.7" cy="210.5" r="4.15" fill="#c4e98b"/>
<circle cx="575.0" cy="188.3" r="4.15" fill="#34e4d9"/>
<circle cx="485.6" cy="244.1" r="4.15" fill="#ff6a36"/>
<circle cx="621.7" cy="133.6" r="4.15" fill="#05aeed"/>
<circle cx="508.5" cy="229.5" r="4.15" fill="#ffa155"/>
<circle cx="510.2" cy="260.0" r="4.15" fill="#ff0c06"/>
<circle cx="511.3" cy="235.1" r="4.15" fill="#ff7f42"/>
<circle cx="519.2" cy="231.1" r="4.15" fill="#ffac5c"/>
<circle cx="646.2" cy="112.0" r="4.15" fill="#4c4ffc"/>
<circle cx="519.2" cy="230.8" r="4.15" fill="#ffa155"/>
<circle cx="605.5" cy="152.4" r="4.15" fill="#34e4d9"/>
<circle cx="515.8" cy="222.8" r="4.15" fill="#f1c36c"/>
<circle cx="634.2" cy="126.7" r="4.15" fill="#2488f5"/>
<circle cx="527.7" cy="193.1" r="4.15" fill="#7314ff"/>
<circle cx="628.2" cy="131.8" r="4.15" fill="#149df1"/>
<circle cx="546.7" cy="206.7" r="4.15" fill="#a2f9a0"/>
<circle cx="471.4" cy="255.5" r="4.15" fill="#ff2c16"/>
<circle cx="548.6" cy="207.9" r="4.15" fill="#aef599"/>
<circle cx="602.4" cy="152.5" r="4.15" fill="#3ae8d6"/>
<circle cx="599.5" cy="167.5" r="4.15" fill="#0cc1e8"/>
<circle cx="631.8" cy="128.2" r="4.15" fill="#11a1f0"/>
<circle cx="561.2" cy="179.8" r="4.15" fill="#6628fe"/>
<circle cx="605.7" cy="143.2" r="4.15" fill="#02b2ec"/>
<circle cx="516.7" cy="241.7" r="4.15" fill="#ff371c"/>
<circle cx="518.5" cy="257.1" r="4.15" fill="#ff150a"/>
<circle cx="608.1" cy="143.0" r="4.15" fill="#3ae8d7"/>
<circle cx="595.2" cy="172.2" r="4.15" fill="#14c9e5"/>
<circle cx="620.5" cy="142.4" r="4.15" fill="#03b1ed"/>
<circle cx="579.5" cy="172.9" r="4.15" fill="#68fcc1"/>
<circle cx="574.0" cy="169.5" r="4.15" fill="#0fa3f0"/>
<circle cx="544.7" cy="220.7" r="4.15" fill="#573ffd"/>
<circle cx="485.9" cy="247.8" r="4.15" fill="#ff4623"/>
<circle cx="576.8" cy="176.7" r="4.15" fill="#6ffebd"/>
<circle cx="477.3" cy="256.1" r="4.15" fill="#ff2311"/>
<circle cx="590.0" cy="163.3" r="4.15" fill="#57f7ca"/>
<circle cx="609.4" cy="139.6" r="4.15" fill="#2488f5"/>
<circle cx="498.4" cy="243.5" r="4.15" fill="#ff572c"/>
<circle cx="470.4" cy="259.0" r="4.15" fill="#ff0804"/>
<circle cx="631.1" cy="133.7" r="4.15" fill="#2d7df7"/>
<circle cx="605.6" cy="148.7" r="4.15" fill="#23d7e0"/>
<circle cx="531.0" cy="247.5" r="4.15" fill="#6d1dff"/>
<circle cx="471.4" cy="258.9" r="4.15" fill="#ff0f07"/>
<circle cx="575.9" cy="178.2" r="4.15" fill="#70febd"/>
<circle cx="579.9" cy="173.7" r="4.15" fill="#6ffebd"/>
<circle cx="579.2" cy="179.2" r="4.15" fill="#6efebe"/>
<circle cx="560.1" cy="202.5" r="4.15" fill="#65fcc3"/>
<circle cx="594.9" cy="149.8" r="4.15" fill="#2fe0db"/>
<circle cx="526.4" cy="230.1" r="4.15" fill="#f9bb66"/>
<circle cx="556.2" cy="184.8" r="4.15" fill="#6628fe"/>
<circle cx="597.6" cy="166.4" r="4.15" fill="#3eead5"/>
<circle cx="621.7" cy="131.9" r="4.15" fill="#02b6eb"/>
<circle cx="562.5" cy="190.6" r="4.15" fill="#87ffb0"/>
<circle cx="544.0" cy="205.3" r="4.15" fill="#b7f093"/>
<circle cx="597.2" cy="150.7" r="4.15" fill="#44eed2"/>
<circle cx="529.3" cy="225.6" r="4.15" fill="#efc56d"/>
<circle cx="620.8" cy="137.0" r="4.15" fill="#0aa9ee"/>
<circle cx="598.0" cy="152.8" r="4.15" fill="#32e3da"/>
<circle cx="590.6" cy="158.7" r="4.15" fill="#5cf9c7"/>
<circle cx="631.2" cy="131.9" r="4.15" fill="#1996f2"/>
<circle cx="600.9" cy="160.4" r="4.15" fill="#2fe0db"/>
<circle cx="481.2" cy="247.0" r="4.15" fill="#ff3d1f"/>
<circle cx="548.6" cy="209.0" r="4.15" fill="#b4f295"/>
<circle cx="596.6" cy="165.3" r="4.15" fill="#43eed2"/>
<circle cx="628.4" cy="132.4" r="4.15" fill="#11a1f0"/>
<circle cx="534.7" cy="248.7" r="4.15" fill="#7511ff"/>
<circle cx="537.4" cy="240.0" r="4.15" fill="#6627fe"/>
<circle cx="635.7" cy="127.0" r="4.15" fill="#4a52fc"/>
<circle cx="549.0" cy="203.8" r="4.15" fill="#bced90"/>
<circle cx="549.8" cy="208.4" r="4.15" fill="#bbee91"/>
<circle cx="613.8" cy="139.4" r="4.15" fill="#0cc1e8"/>
<circle cx="611.7" cy="130.6" r="4.15" fill="#24d7df"/>
<circle cx="485.7" cy="254.6" r="4.15" fill="#ff2311"/>
<circle cx="561.5" cy="201.6" r="4.15" fill="#4df3ce"/>
<circle cx="520.0" cy="224.7" r="4.15" fill="#f3c16a"/>
<circle cx="582.8" cy="173.6" r="4.15" fill="#62fbc4"/>
<circle cx="520.3" cy="225.6" r="4.15" fill="#f7bd68"/>
<circle cx="495.2" cy="238.6" r="4.15" fill="#ff8847"/>
<circle cx="496.3" cy="252.5" r="4.15" fill="#ff1a0d"/>
<circle cx="527.1" cy="217.3" r="4.15" fill="#d9d97c"/>
<circle cx="485.3" cy="252.0" r="4.15" fill="#ff2f18"/>
<circle cx="566.2" cy="190.2" r="4.15" fill="#87ffb0"/>
<circle cx="592.7" cy="158.7" r="4.15" fill="#55f6ca"/>
<circle cx="582.1" cy="171.7" r="4.15" fill="#66fcc2"/>
<circle cx="599.1" cy="164.3" r="4.15" fill="#32e2da"/>
<circle cx="567.9" cy="179.9" r="4.15" fill="#5af8c8"/>
<circle cx="525.0" cy="221.5" r="4.15" fill="#eec66e"/>
<circle cx="504.7" cy="243.1" r="4.15" fill="#ff3219"/>
<circle cx="484.8" cy="245.3" r="4.15" fill="#ff4724"/>
<circle cx="500.1" cy="241.5" r="4.15" fill="#ff6031"/>
<circle cx="502.2" cy="242.0" r="4.15" fill="#ff713a"/>
<circle cx="479.8" cy="252.1" r="4.15" fill="#ff2a15"/>
<circle cx="599.5" cy="153.9" r="4.15" fill="#3dead5"/>
<circle cx="636.7" cy="128.4" r="4.15" fill="#435dfb"/>
<circle cx="631.7" cy="126.6" r="4.15" fill="#1b94f3"/>
<circle cx="564.2" cy="191.4" r="4.15" fill="#80ffb4"/>
<circle cx="573.6" cy="179.5" r="4.15" fill="#7affb7"/>
<circle cx="545.9" cy="203.8" r="4.15" fill="#a9f79c"/>
<circle cx="478.0" cy="257.3" r="4.15" fill="#ff2a15"/>
<circle cx="553.9" cy="196.8" r="4.15" fill="#a8f79c"/>
<circle cx="550.8" cy="200.4" r="4.15" fill="#9afca5"/>
<circle cx="532.0" cy="252.7" r="4.15" fill="#6e1cff"/>
<circle cx="575.0" cy="179.8" r="4.15" fill="#71febc"/>
<circle cx="653.2" cy="112.8" r="4.15" fill="#425efa"/>
<circle cx="616.6" cy="147.5" r="4.15" fill="#169af2"/>
<circle cx="546.6" cy="209.4" r="4.15" fill="#bded8f"/>
<circle cx="539.4" cy="227.4" r="4.15" fill="#612ffe"/>
<circle cx="585.7" cy="166.8" r="4.15" fill="#5af8c8"/>
<circle cx="512.9" cy="262.2" r="4.15" fill="#ff0804"/>
<circle cx="476.6" cy="253.5" r="4.15" fill="#ff361b"/>
<circle cx="581.8" cy="166.8" r="4.15" fill="#64fbc3"/>
<circle cx="496.2" cy="245.7" r="4.15" fill="#ff532a"/>
<circle cx="562.2" cy="187.8" r="4.15" fill="#7cffb6"/>
<circle cx="490.5" cy="244.7" r="4.15" fill="#ff582d"/>
<circle cx="542.5" cy="205.7" r="4.15" fill="#b8ef92"/>
<circle cx="484.8" cy="249.5" r="4.15" fill="#ff542b"/>
<circle cx="473.1" cy="258.8" r="4.15" fill="#ff1109"/>
<circle cx="573.4" cy="190.0" r="4.15" fill="#37e6d8"/>
<circle cx="520.4" cy="224.9" r="4.15" fill="#f5bf69"/>
<circle cx="585.7" cy="163.0" r="4.15" fill="#63fbc3"/>
<circle cx="515.7" cy="238.2" r="4.15" fill="#ff3f20"/>
<circle cx="477.5" cy="251.6" r="4.15" fill="#ff4623"/>
<circle cx="477.2" cy="254.3" r="4.15" fill="#ff2915"/>
<circle cx="557.2" cy="211.6" r="4.15" fill="#57f7c9"/>
<circle cx="487.0" cy="244.7" r="4.15" fill="#ff4925"/>
<circle cx="554.1" cy="203.8" r="4.15" fill="#9afca5"/>
<circle cx="512.3" cy="225.5" r="4.15" fill="#ffa95a"/>
<circle cx="582.7" cy="177.9" r="4.15" fill="#65fcc2"/>
<circle cx="552.1" cy="207.1" r="4.15" fill="#9ffaa2"/>
<circle cx="495.6" cy="250.0" r="4.15" fill="#ff4121"/>
<circle cx="574.6" cy="174.6" r="4.15" fill="#6bfdc0"/>
<circle cx="490.6" cy="251.2" r="4.15" fill="#ff2f18"/>
<circle cx="515.8" cy="224.0" r="4.15" fill="#f6be68"/>
<circle cx="527.8" cy="214.6" r="4.15" fill="#cde284"/>
<circle cx="605.8" cy="166.2" r="4.15" fill="#573ffd"/>
<circle cx="552.0" cy="197.5" r="4.15" fill="#9cfba4"/>
<circle cx="602.6" cy="154.2" r="4.15" fill="#2cdedc"/>
<circle cx="536.6" cy="213.4" r="4.15" fill="#cde385"/>
<circle cx="540.4" cy="210.0" r="4.15" fill="#aff498"/>
<circle cx="618.6" cy="144.3" r="4.15" fill="#00b5ec"/>
<circle cx="643.1" cy="115.0" r="4.15" fill="#425efa"/>
<circle cx="541.0" cy="207.2" r="4.15" fill="#b7f093"/>
<circle cx="505.2" cy="242.2" r="4.15" fill="#ff6835"/>
<circle cx="655.5" cy="116.6" r="4.15" fill="#4c4ffc"/>
<circle cx="470.8" cy="256.6" r="4.15" fill="#ff1008"/>
<circle cx="506.1" cy="232.1" r="4.15" fill="#ff8e4a"/>
<circle cx="535.3" cy="219.5" r="4.15" fill="#e5cf74"/>
<circle cx="506.1" cy="239.8" r="4.15" fill="#ff381c"/>
<circle cx="527.0" cy="203.9" r="4.15" fill="#7314ff"/>
<circle cx="636.0" cy="128.5" r="4.15" fill="#396cf9"/>
<circle cx="545.7" cy="207.4" r="4.15" fill="#a8f79c"/>
<circle cx="592.6" cy="167.3" r="4.15" fill="#52f5cc"/>
<circle cx="515.2" cy="247.4" r="4.15" fill="#ff2a15"/>
<circle cx="475.0" cy="258.0" r="4.15" fill="#ff2b15"/>
<circle cx="584.1" cy="164.6" r="4.15" fill="#66fcc2"/>
<circle cx="635.2" cy="129.9" r="4.15" fill="#435dfb"/>
<circle cx="625.9" cy="133.0" r="4.15" fill="#10a2f0"/>
<circle cx="485.1" cy="242.9" r="4.15" fill="#ff6433"/>
<circle cx="583.9" cy="171.1" r="4.15" fill="#6ffebd"/>
</g>
<g clip-path="url(#cr)"><line x1="448.5" y1="300.85" x2="738.0" y2="25.4" stroke="#000" stroke-width="2.08" stroke-dasharray="7.86 3.4"/></g>
<line x1="448.50" y1="24.75" x2="448.50" y2="301.50" stroke="#000" stroke-width="1.3" />
<line x1="738.00" y1="24.75" x2="738.00" y2="301.50" stroke="#000" stroke-width="1.3" />
<line x1="447.85" y1="25.40" x2="738.65" y2="25.40" stroke="#000" stroke-width="1.3" />
<line x1="447.85" y1="300.85" x2="738.65" y2="300.85" stroke="#000" stroke-width="1.3" />
<line x1="443.64" y1="300.85" x2="448.50" y2="300.85" stroke="#000" stroke-width="1.11" />
<line x1="445.72" y1="287.03" x2="448.50" y2="287.03" stroke="#000" stroke-width="0.83" />
<line x1="445.72" y1="278.95" x2="448.50" y2="278.95" stroke="#000" stroke-width="0.83" />
<line x1="445.72" y1="273.21" x2="448.50" y2="273.21" stroke="#000" stroke-width="0.83" />
<line x1="445.72" y1="268.76" x2="448.50" y2="268.76" stroke="#000" stroke-width="0.83" />
<line x1="445.72" y1="265.13" x2="448.50" y2="265.13" stroke="#000" stroke-width="0.83" />
<line x1="445.72" y1="262.05" x2="448.50" y2="262.05" stroke="#000" stroke-width="0.83" />
<line x1="445.72" y1="259.39" x2="448.50" y2="259.39" stroke="#000" stroke-width="0.83" />
<line x1="445.72" y1="257.04" x2="448.50" y2="257.04" stroke="#000" stroke-width="0.83" />
<line x1="443.64" y1="254.94" x2="448.50" y2="254.94" stroke="#000" stroke-width="1.11" />
<line x1="445.72" y1="241.12" x2="448.50" y2="241.12" stroke="#000" stroke-width="0.83" />
<line x1="445.72" y1="233.04" x2="448.50" y2="233.04" stroke="#000" stroke-width="0.83" />
<line x1="445.72" y1="227.30" x2="448.50" y2="227.30" stroke="#000" stroke-width="0.83" />
<line x1="445.72" y1="222.85" x2="448.50" y2="222.85" stroke="#000" stroke-width="0.83" />
<line x1="445.72" y1="219.22" x2="448.50" y2="219.22" stroke="#000" stroke-width="0.83" />
<line x1="445.72" y1="216.14" x2="448.50" y2="216.14" stroke="#000" stroke-width="0.83" />
<line x1="445.72" y1="213.48" x2="448.50" y2="213.48" stroke="#000" stroke-width="0.83" />
<line x1="445.72" y1="211.13" x2="448.50" y2="211.13" stroke="#000" stroke-width="0.83" />
<line x1="443.64" y1="209.03" x2="448.50" y2="209.03" stroke="#000" stroke-width="1.11" />
<line x1="445.72" y1="195.21" x2="448.50" y2="195.21" stroke="#000" stroke-width="0.83" />
<line x1="445.72" y1="187.13" x2="448.50" y2="187.13" stroke="#000" stroke-width="0.83" />
<line x1="445.72" y1="181.39" x2="448.50" y2="181.39" stroke="#000" stroke-width="0.83" />
<line x1="445.72" y1="176.94" x2="448.50" y2="176.94" stroke="#000" stroke-width="0.83" />
<line x1="445.72" y1="173.31" x2="448.50" y2="173.31" stroke="#000" stroke-width="0.83" />
<line x1="445.72" y1="170.24" x2="448.50" y2="170.24" stroke="#000" stroke-width="0.83" />
<line x1="445.72" y1="167.57" x2="448.50" y2="167.57" stroke="#000" stroke-width="0.83" />
<line x1="445.72" y1="165.23" x2="448.50" y2="165.23" stroke="#000" stroke-width="0.83" />
<line x1="443.64" y1="163.12" x2="448.50" y2="163.12" stroke="#000" stroke-width="1.11" />
<line x1="445.72" y1="149.31" x2="448.50" y2="149.31" stroke="#000" stroke-width="0.83" />
<line x1="445.72" y1="141.22" x2="448.50" y2="141.22" stroke="#000" stroke-width="0.83" />
<line x1="445.72" y1="135.49" x2="448.50" y2="135.49" stroke="#000" stroke-width="0.83" />
<line x1="445.72" y1="131.04" x2="448.50" y2="131.04" stroke="#000" stroke-width="0.83" />
<line x1="445.72" y1="127.40" x2="448.50" y2="127.40" stroke="#000" stroke-width="0.83" />
<line x1="445.72" y1="124.33" x2="448.50" y2="124.33" stroke="#000" stroke-width="0.83" />
<line x1="445.72" y1="121.67" x2="448.50" y2="121.67" stroke="#000" stroke-width="0.83" />
<line x1="445.72" y1="119.32" x2="448.50" y2="119.32" stroke="#000" stroke-width="0.83" />
<line x1="443.64" y1="117.22" x2="448.50" y2="117.22" stroke="#000" stroke-width="1.11" />
<line x1="445.72" y1="103.40" x2="448.50" y2="103.40" stroke="#000" stroke-width="0.83" />
<line x1="445.72" y1="95.31" x2="448.50" y2="95.31" stroke="#000" stroke-width="0.83" />
<line x1="445.72" y1="89.58" x2="448.50" y2="89.58" stroke="#000" stroke-width="0.83" />
<line x1="445.72" y1="85.13" x2="448.50" y2="85.13" stroke="#000" stroke-width="0.83" />
<line x1="445.72" y1="81.49" x2="448.50" y2="81.49" stroke="#000" stroke-width="0.83" />
<line x1="445.72" y1="78.42" x2="448.50" y2="78.42" stroke="#000" stroke-width="0.83" />
<line x1="445.72" y1="75.76" x2="448.50" y2="75.76" stroke="#000" stroke-width="0.83" />
<line x1="445.72" y1="73.41" x2="448.50" y2="73.41" stroke="#000" stroke-width="0.83" />
<line x1="443.64" y1="71.31" x2="448.50" y2="71.31" stroke="#000" stroke-width="1.11" />
<line x1="445.72" y1="57.49" x2="448.50" y2="57.49" stroke="#000" stroke-width="0.83" />
<line x1="445.72" y1="49.40" x2="448.50" y2="49.40" stroke="#000" stroke-width="0.83" />
<line x1="445.72" y1="43.67" x2="448.50" y2="43.67" stroke="#000" stroke-width="0.83" />
<line x1="445.72" y1="39.22" x2="448.50" y2="39.22" stroke="#000" stroke-width="0.83" />
<line x1="445.72" y1="35.58" x2="448.50" y2="35.58" stroke="#000" stroke-width="0.83" />
<line x1="445.72" y1="32.51" x2="448.50" y2="32.51" stroke="#000" stroke-width="0.83" />
<line x1="445.72" y1="29.85" x2="448.50" y2="29.85" stroke="#000" stroke-width="0.83" />
<line x1="445.72" y1="27.50" x2="448.50" y2="27.50" stroke="#000" stroke-width="0.83" />
<line x1="443.64" y1="25.40" x2="448.50" y2="25.40" stroke="#000" stroke-width="1.11" />
<line x1="448.50" y1="300.85" x2="448.50" y2="305.71" stroke="#000" stroke-width="1.11" />
<line x1="545.00" y1="300.85" x2="545.00" y2="305.71" stroke="#000" stroke-width="1.11" />
<line x1="641.50" y1="300.85" x2="641.50" y2="305.71" stroke="#000" stroke-width="1.11" />
<line x1="738.00" y1="300.85" x2="738.00" y2="305.71" stroke="#000" stroke-width="1.11" />
<text x="407.60" y="306.05" font-size="13.9" text-anchor="start" textLength="14.6" lengthAdjust="spacingAndGlyphs"  style="">10</text>
<text x="424.50" y="300.65" font-size="9.9" text-anchor="start" textLength="12.6" lengthAdjust="spacingAndGlyphs"  style="">−5</text>
<text x="407.60" y="260.14" font-size="13.9" text-anchor="start" textLength="14.6" lengthAdjust="spacingAndGlyphs"  style="">10</text>
<text x="424.50" y="254.74" font-size="9.9" text-anchor="start" textLength="12.6" lengthAdjust="spacingAndGlyphs"  style="">−4</text>
<text x="407.60" y="214.23" font-size="13.9" text-anchor="start" textLength="14.6" lengthAdjust="spacingAndGlyphs"  style="">10</text>
<text x="424.50" y="208.83" font-size="9.9" text-anchor="start" textLength="12.6" lengthAdjust="spacingAndGlyphs"  style="">−3</text>
<text x="407.60" y="168.32" font-size="13.9" text-anchor="start" textLength="14.6" lengthAdjust="spacingAndGlyphs"  style="">10</text>
<text x="424.50" y="162.93" font-size="9.9" text-anchor="start" textLength="12.6" lengthAdjust="spacingAndGlyphs"  style="">−2</text>
<text x="407.60" y="122.42" font-size="13.9" text-anchor="start" textLength="14.6" lengthAdjust="spacingAndGlyphs"  style="">10</text>
<text x="424.50" y="117.02" font-size="9.9" text-anchor="start" textLength="12.6" lengthAdjust="spacingAndGlyphs"  style="">−1</text>
<text x="415.70" y="76.51" font-size="13.9" text-anchor="start" textLength="16.1" lengthAdjust="spacingAndGlyphs"  style="">10</text>
<text x="433.40" y="71.11" font-size="9.9" text-anchor="start" textLength="4.6" lengthAdjust="spacingAndGlyphs"  style="">0</text>
<text x="415.70" y="30.60" font-size="13.9" text-anchor="start" textLength="16.1" lengthAdjust="spacingAndGlyphs"  style="">10</text>
<text x="433.40" y="25.20" font-size="9.9" text-anchor="start" textLength="4.6" lengthAdjust="spacingAndGlyphs"  style="">1</text>
<text x="433.70" y="320.80" font-size="13.9" text-anchor="start" textLength="14.6" lengthAdjust="spacingAndGlyphs"  style="">10</text>
<text x="450.50" y="315.20" font-size="9.9" text-anchor="start" textLength="12.6" lengthAdjust="spacingAndGlyphs"  style="">−5</text>
<text x="530.20" y="320.80" font-size="13.9" text-anchor="start" textLength="14.6" lengthAdjust="spacingAndGlyphs"  style="">10</text>
<text x="547.00" y="315.20" font-size="9.9" text-anchor="start" textLength="12.6" lengthAdjust="spacingAndGlyphs"  style="">−3</text>
<text x="626.70" y="320.80" font-size="13.9" text-anchor="start" textLength="14.6" lengthAdjust="spacingAndGlyphs"  style="">10</text>
<text x="643.50" y="315.20" font-size="9.9" text-anchor="start" textLength="12.6" lengthAdjust="spacingAndGlyphs"  style="">−1</text>
<text x="726.60" y="320.80" font-size="13.9" text-anchor="start" textLength="14.6" lengthAdjust="spacingAndGlyphs"  style="">10</text>
<text x="742.60" y="315.20" font-size="9.9" text-anchor="start" textLength="4.2" lengthAdjust="spacingAndGlyphs"  style="">1</text>
<text x="544.2" y="17.4" font-size="16.7" textLength="96.9" lengthAdjust="spacingAndGlyphs"><tspan font-style="italic">E</tspan>(<tspan font-style="italic">f</tspan>) [<tspan font-style="italic">m</tspan><tspan font-size="11.7" dy="-6">2</tspan><tspan dy="6" font-style="italic">/Hz</tspan>]</text>
<text x="550.70" y="339.40" font-size="13.9" text-anchor="start" textLength="85.2" lengthAdjust="spacingAndGlyphs"  style="">Stereo video</text>
<g transform="translate(399.6,205) rotate(-90)">
<text x="0" y="0" font-size="13.9" textLength="84" lengthAdjust="spacingAndGlyphs">Wave gauge</text></g>
<rect x="620.6" y="243.5" width="116.1" height="51.7" rx="3.5" fill="#bfbfbf" stroke="#000" stroke-width="1.11"/>
<text x="644.8" y="257.5" font-size="13.9" font-style="italic">R</text>
<text x="656.20" y="251.60" font-size="9.9" text-anchor="start" textLength="5.0" lengthAdjust="spacingAndGlyphs"  style="">2</text>
<text x="666.80" y="257.50" font-size="13.9" text-anchor="start" textLength="9.0" lengthAdjust="spacingAndGlyphs"  style="">=</text>
<text x="682.30" y="257.50" font-size="13.9" text-anchor="start" textLength="29.3" lengthAdjust="spacingAndGlyphs"  style="">0.94</text>
<text x="628.60" y="272.70" font-size="13.9" text-anchor="start" textLength="36.6" lengthAdjust="spacingAndGlyphs"  style="">RMSE</text>
<text x="675.80" y="272.70" font-size="13.9" text-anchor="start" textLength="9.0" lengthAdjust="spacingAndGlyphs"  style="">=</text>
<text x="690.50" y="272.70" font-size="13.9" text-anchor="start" textLength="38.3" lengthAdjust="spacingAndGlyphs"  style="">0.008</text>
<text x="625.30" y="288.40" font-size="13.9" text-anchor="start" textLength="47.2" lengthAdjust="spacingAndGlyphs"  style="">NRMSE</text>
<text x="677.40" y="288.40" font-size="13.9" text-anchor="start" textLength="9.0" lengthAdjust="spacingAndGlyphs"  style="">=</text>
<text x="690.50" y="288.40" font-size="13.9" text-anchor="start" textLength="39.9" lengthAdjust="spacingAndGlyphs"  style="">0.037</text>
<rect x="448.4" y="353.8" width="289.70" height="14.40" fill="url(#cbg)" stroke="#000" stroke-width="1.11"/>
<line x1="490.50" y1="368.20" x2="490.50" y2="373.06" stroke="#000" stroke-width="1.11" />
<text x="490.50" y="388.00" font-size="13.9" text-anchor="middle" textLength="28.8" lengthAdjust="spacingAndGlyphs"  style="">0.25</text>
<line x1="535.60" y1="368.20" x2="535.60" y2="373.06" stroke="#000" stroke-width="1.11" />
<text x="535.60" y="388.00" font-size="13.9" text-anchor="middle" textLength="28.8" lengthAdjust="spacingAndGlyphs"  style="">0.50</text>
<line x1="580.70" y1="368.20" x2="580.70" y2="373.06" stroke="#000" stroke-width="1.11" />
<text x="580.70" y="388.00" font-size="13.9" text-anchor="middle" textLength="28.8" lengthAdjust="spacingAndGlyphs"  style="">0.75</text>
<line x1="625.80" y1="368.20" x2="625.80" y2="373.06" stroke="#000" stroke-width="1.11" />
<text x="625.80" y="388.00" font-size="13.9" text-anchor="middle" textLength="28.8" lengthAdjust="spacingAndGlyphs"  style="">1.00</text>
<line x1="670.90" y1="368.20" x2="670.90" y2="373.06" stroke="#000" stroke-width="1.11" />
<text x="670.90" y="388.00" font-size="13.9" text-anchor="middle" textLength="28.8" lengthAdjust="spacingAndGlyphs"  style="">1.25</text>
<line x1="716.00" y1="368.20" x2="716.00" y2="373.06" stroke="#000" stroke-width="1.11" />
<text x="716.00" y="388.00" font-size="13.9" text-anchor="middle" textLength="28.8" lengthAdjust="spacingAndGlyphs"  style="">1.50</text>
<text x="409.3" y="363.8" font-size="13.9" font-style="italic">f</text>
<text x="422.6" y="363.8" font-size="13.9" textLength="26.6" lengthAdjust="spacingAndGlyphs">[<tspan font-style="italic">Hz</tspan>]</text>
</svg></body></html>
